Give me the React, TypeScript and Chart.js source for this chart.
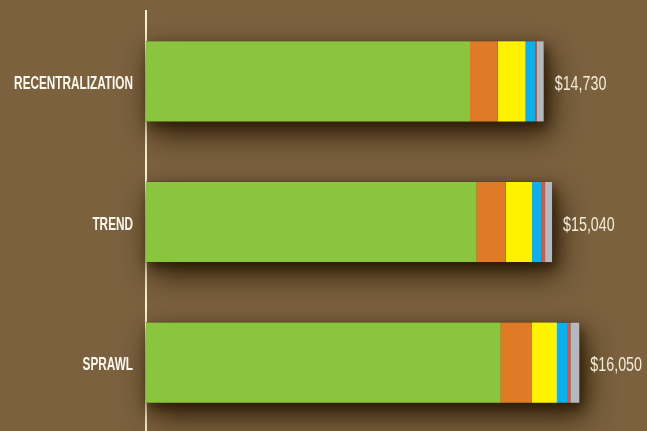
import React, { useEffect, useRef } from "react";
import { Chart, registerables } from "chart.js";

Chart.register(...registerables);

const categories = ["RECENTRALIZATION", "TREND", "SPRAWL"];
const totals = [14730, 15040, 16050];
const totalLabels = ["$14,730", "$15,040", "$16,050"];
const greenValues = [12000, 12250, 13140];
const orangeValues = [1030, 1075, 1155];
const yellowValues = [1030, 975, 925];
const blueValues = [370, 360, 405];
const redValues = [50, 120, 90];
const grayValues = [250, 260, 335];

const BG = "#7b613e";

const shadowPlugin = {
  id: "barShadow",
  beforeDatasetsDraw(chart: any) {
    const ctx = chart.ctx;
    const meta = chart.getDatasetMeta(0);
    const xs = chart.scales.x;
    const passes = [
      { color: "rgba(40,24,4,0.9)", blur: 30, ox: 6, oy: 13 },
      { color: "rgba(40,24,4,0.7)", blur: 10, ox: 3, oy: 5 },
    ];
    passes.forEach((s) => {
      ctx.save();
      ctx.shadowColor = s.color;
      ctx.shadowBlur = s.blur;
      ctx.shadowOffsetX = s.ox;
      ctx.shadowOffsetY = s.oy;
      meta.data.forEach((bar: any, i: number) => {
        const p = bar.getProps(["y", "height"], true);
        const x0 = xs.getPixelForValue(0);
        const x1 = xs.getPixelForValue(totals[i]);
        ctx.fillStyle = "#3e2a10";
        ctx.fillRect(x0, p.y - p.height / 2, x1 - x0, p.height);
      });
      ctx.restore();
    });
  },
};

const labelPlugin = {
  id: "labels",
  afterDatasetsDraw(chart: any) {
    const ctx = chart.ctx;
    const meta = chart.getDatasetMeta(0);
    const xs = chart.scales.x;
    const left = chart.chartArea.left;
    meta.data.forEach((bar: any, i: number) => {
      const p = bar.getProps(["y"], true);
      // category label (condensed bold)
      ctx.save();
      ctx.translate(left - 13, p.y + 2.5);
      ctx.scale(0.62, 1);
      ctx.font = "bold 19px 'Liberation Sans', Arial, sans-serif";
      ctx.fillStyle = "#fbf8f0";
      ctx.textAlign = "right";
      ctx.textBaseline = "middle";
      ctx.fillText(categories[i], 0, 0);
      ctx.restore();
      // total label (condensed light)
      const xEnd = xs.getPixelForValue(totals[i]);
      ctx.save();
      ctx.translate(xEnd + 11, p.y + 3);
      ctx.scale(0.68, 1);
      ctx.font = "21px 'Liberation Sans', Arial, sans-serif";
      ctx.fillStyle = "#f3ecd8";
      ctx.textAlign = "left";
      ctx.textBaseline = "middle";
      ctx.fillText(totalLabels[i], 0, 0);
      ctx.restore();
    });
  },
};

export default function App() {
  const ref = useRef<HTMLCanvasElement | null>(null);
  useEffect(() => {
    document.body.style.margin = "0";
    document.body.style.background = BG;
    document.body.style.overflow = "hidden";
    const canvas = ref.current;
    if (!canvas) return;
    const mk = (label: string, data: number[], color: string) => ({
      label,
      data,
      backgroundColor: color,
      borderWidth: 0,
      barPercentage: 1,
      categoryPercentage: 0.57,
    });
    const chart = new Chart(canvas, {
      type: "bar",
      data: {
        labels: categories,
        datasets: [
          mk("Green", greenValues, "#8bc53f"),
          mk("Orange", orangeValues, "#df7a26"),
          mk("Yellow", yellowValues, "#fff200"),
          mk("Blue", blueValues, "#0db0ea"),
          mk("Red", redValues, "#d8573e"),
          mk("Gray", grayValues, "#b6b8bf"),
        ],
      },
      options: {
        indexAxis: "y",
        responsive: false,
        animation: false,
        layout: { padding: { left: 146, right: 15, top: 11, bottom: 1 } },
        plugins: {
          legend: { display: false },
          tooltip: { enabled: false },
        },
        scales: {
          x: {
            stacked: true,
            min: 0,
            max: 18000,
            display: false,
          },
          y: {
            stacked: true,
            z: 1,
            grid: { display: false, drawTicks: false },
            ticks: { display: false },
            border: { display: true, color: "#f8f0c8", width: 2 },
          },
        },
      },
      plugins: [shadowPlugin, labelPlugin],
    } as any);
    return () => chart.destroy();
  }, []);
  return (
    <div
      style={{
        position: "fixed",
        left: 0,
        top: 0,
        width: 647,
        height: 431,
        overflow: "hidden",
        background: BG,
      }}
    >
      <canvas ref={ref} width={647} height={434} style={{ display: "block" }} />
    </div>
  );
}
